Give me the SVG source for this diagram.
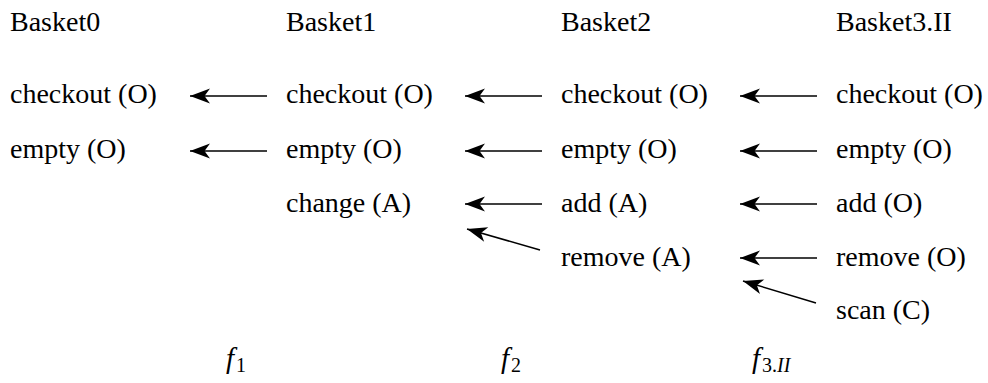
<svg xmlns="http://www.w3.org/2000/svg" width="988" height="383" viewBox="0 0 988 383">
  <style>
    text { font-family: "Liberation Serif", "Times New Roman", serif; font-size: 28px; fill: #000; }
    .math { font-style: italic; font-size: 29px; }
    .sub { font-size: 20px; }
    .up { font-style: normal; }
    .edge { stroke: #000; stroke-width: 1.5; fill: none; marker-end: url(#stealth); }
  </style>
  <defs>
    <!-- swept arrowhead, tip at the end of the line -->
    <marker id="stealth" markerUnits="userSpaceOnUse" viewBox="-22 -9 23 18" refX="0" refY="0" markerWidth="23" markerHeight="18" orient="auto">
      <path d="M0,0 L-20,-7.5 L-14.5,0 L-20,7.5 Z" fill="#000"/>
    </marker>
  </defs>

  <!-- Basket 0 -->
  <g id="basket0">
    <text x="10" y="31">Basket0</text>
    <text x="10" y="103">checkout (O)</text>
    <text x="10" y="158">empty (O)</text>
  </g>

  <!-- Basket 1 -->
  <g id="basket1">
    <text x="286" y="31">Basket1</text>
    <text x="286" y="103">checkout (O)</text>
    <text x="286" y="158">empty (O)</text>
    <text x="286" y="212">change (A)</text>
  </g>

  <!-- Basket 2 -->
  <g id="basket2">
    <text x="561" y="31">Basket2</text>
    <text x="561" y="103">checkout (O)</text>
    <text x="561" y="158">empty (O)</text>
    <text x="561" y="212">add (A)</text>
    <text x="561" y="266">remove (A)</text>
  </g>

  <!-- Basket 3.II -->
  <g id="basket3">
    <text x="836" y="31">Basket3.II</text>
    <text x="836" y="103">checkout (O)</text>
    <text x="836" y="158">empty (O)</text>
    <text x="836" y="212">add (O)</text>
    <text x="836" y="266">remove (O)</text>
    <text x="836" y="319">scan (C)</text>
  </g>

  <!-- mapping labels -->
  <g id="maps">
    <text class="math" x="226" y="368">f<tspan class="sub up" dx="2" dy="4">1</tspan></text>
    <text class="math" x="501" y="368">f<tspan class="sub up" dx="2" dy="4">2</tspan></text>
    <text class="math" x="752" y="368">f<tspan class="sub up" dx="2" dy="4">3.</tspan><tspan class="sub">II</tspan></text>
  </g>

  <!-- connectors -->
  <g id="connectors">
    <line class="edge" x1="267" y1="96" x2="190" y2="96"/>
    <line class="edge" x1="267" y1="151" x2="190" y2="151"/>

    <line class="edge" x1="542" y1="96" x2="465" y2="96"/>
    <line class="edge" x1="542" y1="151" x2="465" y2="151"/>
    <line class="edge" x1="542" y1="204" x2="465" y2="204"/>
    <line class="edge" x1="540" y1="250" x2="467" y2="229"/>

    <line class="edge" x1="817" y1="96" x2="740" y2="96"/>
    <line class="edge" x1="817" y1="151" x2="740" y2="151"/>
    <line class="edge" x1="817" y1="204" x2="740" y2="204"/>
    <line class="edge" x1="817" y1="258" x2="740" y2="258"/>
    <line class="edge" x1="816" y1="303" x2="743" y2="281"/>
  </g>
</svg>
